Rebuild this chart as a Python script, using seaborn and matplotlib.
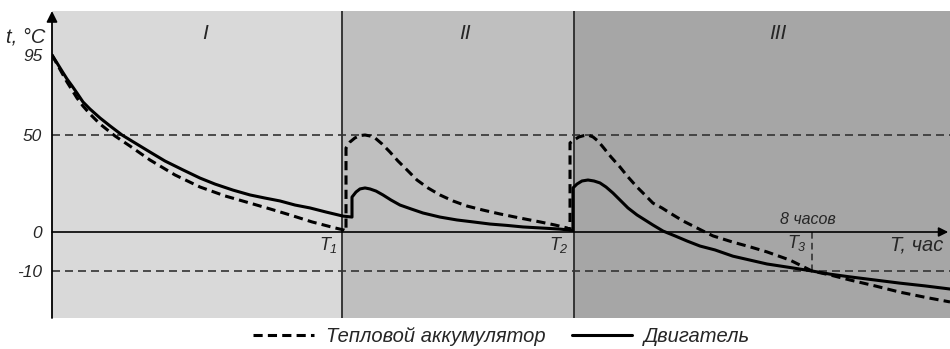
import numpy as np
import pandas as pd
import seaborn as sns
import matplotlib.pyplot as plt

# time, h / temperature, degC
acc_t = [0.0, 0.053, 0.105, 0.158, 0.211, 0.263, 0.326, 0.4, 0.505, 0.663, 0.821,
         1.032, 1.295, 1.558, 1.821, 2.084, 2.295, 2.505, 2.737, 2.979, 3.074,
         3.095, 3.095, 3.137, 3.189, 3.242, 3.295, 3.347, 3.4, 3.474, 3.558, 3.642,
         3.737, 3.842, 3.958, 4.084, 4.221, 4.368, 4.537, 4.716, 4.926, 5.137,
         5.295, 5.421, 5.453,
         5.453, 5.495, 5.547, 5.6, 5.642, 5.695, 5.747, 5.8, 5.884, 5.979, 6.063,
         6.158, 6.242, 6.326, 6.421, 6.505, 6.642, 6.789, 6.874, 6.958, 7.063,
         7.168, 7.347, 7.526, 7.768, 8.0, 8.189, 8.4, 8.663, 8.926, 9.189, 9.453]
acc_temp = [95, 89.9, 84.9, 79.8, 75.3, 70.8, 66.3, 61.8, 56.2, 49.5, 44.3,
            37.1, 29.4, 23.2, 18.6, 14.9, 11.9, 8.8, 5.2, 2.1, 1.0,
            0.5, 43.3, 46.4, 48.5, 49.7, 50, 49.5, 48.5, 45.4, 41.2, 36.6,
            32.0, 26.8, 22.7, 19.1, 16.0, 13.4, 11.3, 9.3, 7.2, 5.2,
            3.6, 2.1, 1.0,
            45.9, 47.4, 49.0, 49.7, 50, 49.0, 46.9, 43.8, 38.7, 33.5, 28.4,
            23.2, 19.1, 14.9, 12.4, 9.8, 5.7, 2.1, 0, -1.0, -1.8,
            -2.6, -3.8, -5.1, -7.2, -10, -11.0, -12.3, -13.8, -15.4, -16.7, -17.9]

eng_t = [0.0, 0.053, 0.105, 0.158, 0.211, 0.263, 0.326, 0.4, 0.505, 0.611, 0.737,
         0.874, 1.032, 1.189, 1.379, 1.558, 1.716, 1.905, 2.084, 2.242, 2.4,
         2.558, 2.716, 2.884, 3.063, 3.158,
         3.158, 3.2, 3.242, 3.295, 3.347, 3.411, 3.484, 3.568, 3.663, 3.779, 3.905,
         4.084, 4.263, 4.432, 4.611, 4.789, 4.958, 5.137, 5.347, 5.484,
         5.484, 5.526, 5.579, 5.642, 5.705, 5.768, 5.832, 5.905, 5.979, 6.063,
         6.158, 6.242, 6.326, 6.432, 6.558, 6.684, 6.821, 6.979, 7.168, 7.347,
         7.526, 7.768, 8.0, 8.189, 8.4, 8.663, 8.926, 9.189, 9.453]
eng_temp = [95, 90.5, 86, 81.5, 77.6, 73.6, 68.6, 64.6, 59.6, 55.1, 50,
            45.9, 41.2, 36.6, 32.0, 27.8, 24.7, 21.6, 19.1, 17.5, 16.0,
            13.9, 12.4, 10.3, 8.2, 7.7,
            18.0, 20.6, 22.2, 22.7, 22.2, 21.1, 19.1, 16.5, 13.9, 11.9, 9.8,
            7.7, 6.2, 5.2, 4.1, 3.4, 2.6, 2.1, 1.5, 0.8,
            22.7, 24.7, 26.3, 26.8, 26.3, 25.3, 23.2, 20.1, 16.5, 12.4,
            8.8, 6.2, 3.6, 0.5, -1.0, -2.3, -3.6, -4.6, -6.2, -7.2,
            -8.2, -9.1, -10, -10.8, -11.5, -12.3, -13.1, -13.8, -14.6]

series_names = ["Тепловой аккумулятор", "Двигатель"]
T1, T2, T3 = 3.053, 5.495, 8.0
ref_levels = [50, -10]
ytick_vals = [95, 50, 0, -10]
zone_labels = ["I", "II", "III"]
zone_label_x = [1.61, 4.347, 7.642]

# the axis is a schematic one: piecewise linear temperature scale
temp_marks = [-22, -10, 0, 50, 95, 120]
pos_marks = [0, 47, 86, 183, 263, 307]


def fwd(v):
    return np.interp(v, temp_marks, pos_marks)


def inv(p):
    return np.interp(p, pos_marks, temp_marks)


df = pd.concat([
    pd.DataFrame({"t": acc_t, "temp": acc_temp, "series": series_names[0]}),
    pd.DataFrame({"t": eng_t, "temp": eng_temp, "series": series_names[1]}),
])

sns.set_style("white")
plt.rcParams["font.family"] = ["Liberation Sans", "DejaVu Sans"]
plt.rcParams["font.style"] = "italic"
plt.rcParams["mathtext.fontset"] = "custom"
plt.rcParams["mathtext.it"] = "Liberation Sans:italic"
plt.rcParams["mathtext.rm"] = "Liberation Sans:italic"

fig = plt.figure(figsize=(9.5, 3.49), dpi=100)
ax = fig.add_axes([52 / 950, 31 / 349, 898 / 950, 307 / 349])
ax.set_yscale("function", functions=(fwd, inv))
ax.set_xlim(0, 9.453)
ax.set_ylim(-22, 120)

# zones
ax.axvspan(0, T1, color="#d9d9d9", lw=0, zorder=0)
ax.axvspan(T1, T2, color="#bfbfbf", lw=0, zorder=0)
ax.axvspan(T2, 9.453, color="#a6a6a6", lw=0, zorder=0)
for x in (T1, T2):
    ax.axvline(x, color="#2b2b2b", lw=1.3, zorder=1)
for lvl in ref_levels:
    ax.axhline(lvl, color="#333333", lw=1.2, dashes=(4.8, 3), zorder=1)
ax.plot([T3, T3], [0, -10], color="#333333", lw=1.2, dashes=(4, 2.5), zorder=1)

sns.lineplot(data=df, x="t", y="temp", hue="series", style="series",
             palette={series_names[0]: "black", series_names[1]: "black"},
             dashes={series_names[0]: (3, 1.7), series_names[1]: ""},
             sort=False, estimator=None, lw=2.2, ax=ax, zorder=3)

# axes with arrows
ax.annotate("", xy=(0.998, 0), xytext=(0, 0), xycoords=ax.get_yaxis_transform(),
            arrowprops=dict(arrowstyle="-|>", color="black", lw=1.2,
                            mutation_scale=14, shrinkA=0, shrinkB=0), zorder=2)
ax.annotate("", xy=(0, 1.0), xytext=(0, 0), xycoords="axes fraction",
            arrowprops=dict(arrowstyle="-|>", color="black", lw=1.3,
                            mutation_scale=16, shrinkA=0, shrinkB=0), zorder=4)
for s in ax.spines.values():
    s.set_visible(False)

ax.set_xticks([])
ax.set_yticks(ytick_vals)
ax.set_yticklabels([str(v) for v in ytick_vals], fontsize=12.5)
ax.tick_params(axis="y", length=0, pad=7)
ax.set_xlabel("")
ax.set_ylabel("")

tr = ax.get_xaxis_transform()
for lab, x in zip(zone_labels, zone_label_x):
    ax.text(x, 0.928, lab, transform=tr, ha="center", va="center", fontsize=15)

ax.text(T1 - 0.04, -3.4, "$T_1$", ha="right", va="center", fontsize=13)
ax.text(T2 - 0.05, -3.4, "$T_2$", ha="right", va="center", fontsize=13)
ax.text(T3 - 0.05, -2.8, "$T_3$", ha="right", va="center", fontsize=13)
ax.text(T3 - 0.04, 6.7, "8 часов", ha="center", va="center", fontsize=11.5)
ax.text(9.38, -3.3, "T, час", ha="right", va="center", fontsize=14.5)
fig.text(45 / 950, 0.894, "t, °C", ha="right", va="center", fontsize=14.5)

sns.move_legend(ax, "center", bbox_to_anchor=(0.501, -0.059), ncol=2,
                frameon=False, title=None, fontsize=14.5, handlelength=3,
                handletextpad=0.6, columnspacing=1.3)

fig.savefig("out.png", dpi=100)
